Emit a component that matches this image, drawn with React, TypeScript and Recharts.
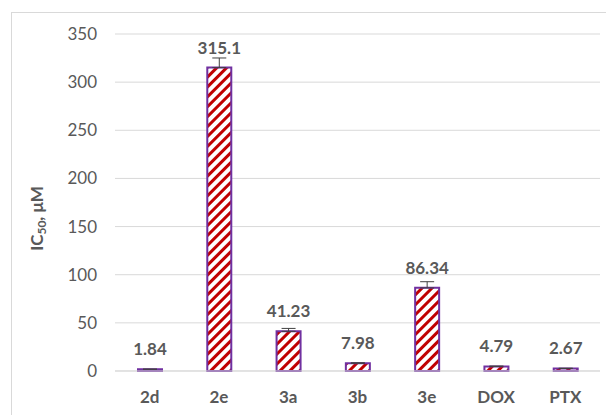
import React from "react";
import { BarChart, Bar, XAxis, YAxis, CartesianGrid, ErrorBar, LabelList } from "recharts";

const categories = ["2d", "2e", "3a", "3b", "3e", "DOX", "PTX"];
const ic50Values = [1.84, 315.1, 41.23, 7.98, 86.34, 4.79, 2.67];
const ic50Errors = [0.1, 10, 3, 0.6, 6.4, 0.3, 0.2];
const valueLabels = ["1.84", "315.1", "41.23", "7.98", "86.34", "4.79", "2.67"];
const yTicks = [0, 50, 100, 150, 200, 250, 300, 350];

const data = categories.map((c, i) => ({
  name: c,
  value: ic50Values[i],
  err: [0, ic50Errors[i]],
  label: valueLabels[i],
}));

const FONT = "Lato, 'Open Sans', sans-serif";
const GRAY = "#595959";

const renderValueLabel = (props: any) => {
  const { x, y, width, value } = props;
  return (
    <text
      x={x + width / 2}
      y={y - 14}
      textAnchor="middle"
      fontFamily={FONT}
      fontWeight={700}
      fontSize={17}
      fill={GRAY}
    >
      {value}
    </text>
  );
};

const YLabel = (props: any) => {
  const vb = props.viewBox || { x: 0, y: 0, width: 0, height: 0 };
  const cx = vb.x + 27;
  const cy = vb.y + vb.height / 2 + 16;
  return (
    <text
      x={cx}
      y={cy}
      transform={`rotate(-90, ${cx}, ${cy})`}
      textAnchor="middle"
      dominantBaseline="middle"
      fontFamily={FONT}
      fontWeight={700}
      fontSize={17}
      fill={GRAY}
    >
      IC
      <tspan dy={4} fontSize={12}>50</tspan>
      <tspan dy={-4}>, μM</tspan>
    </text>
  );
};

export default function App() {
  return (
    <div
      style={{
        position: "relative",
        left: 3,
        top: 4,
        width: 602,
        height: 406,
        borderTop: "1px solid #d9d9d9",
        borderLeft: "1px solid #d9d9d9",
        background: "#fff",
        overflow: "hidden",
      }}
    >
      <svg width={0} height={0} style={{ position: "absolute" }}>
        <defs>
          <pattern
            id="stripes"
            patternUnits="userSpaceOnUse"
            width={7}
            height={7}
            patternTransform="rotate(45)"
          >
            <rect x={0} y={0} width={7} height={7} fill="#ffffff" />
            <rect x={0} y={0} width={3} height={7} fill="#C00000" />
          </pattern>
        </defs>
      </svg>
      <BarChart
        width={602}
        height={405}
        data={data}
        margin={{ top: 21, right: 14, left: 0, bottom: 17 }}
        barCategoryGap="10%"
      >
        <CartesianGrid vertical={false} stroke="#d9d9d9" strokeWidth={1} />
        <XAxis
          dataKey="name"
          height={30}
          axisLine={{ stroke: "#d9d9d9" }}
          tickLine={false}
          tickSize={0}
          tickMargin={20}
          tick={{ fontFamily: FONT, fontWeight: 700, fontSize: 17, fill: GRAY }}
          interval={0}
        />
        <YAxis
          width={103}
          domain={[0, 350]}
          ticks={yTicks}
          axisLine={false}
          tickLine={false}
          tickSize={0}
          tickMargin={18}
          tick={{ fontFamily: FONT, fontSize: 17, fill: GRAY }}
          label={<YLabel />}
        />
        <Bar
          dataKey="value"
          barSize={24}
          fill="url(#stripes)"
          stroke="#7030A0"
          strokeWidth={2}
          isAnimationActive={false}
        >
          <ErrorBar dataKey="err" direction="y" width={7} stroke="#404040" strokeWidth={1} />
          <LabelList dataKey="label" content={renderValueLabel} />
        </Bar>
      </BarChart>
    </div>
  );
}
